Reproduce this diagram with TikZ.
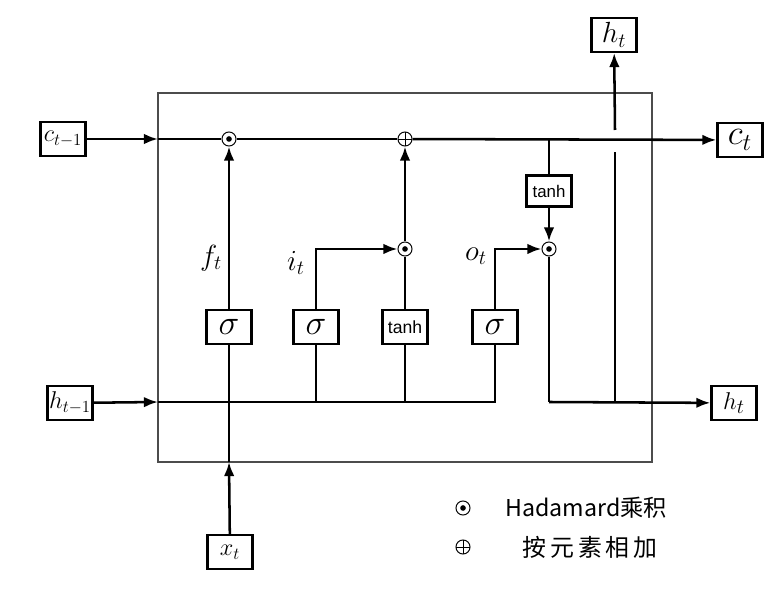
\documentclass[tikz,border=0pt]{standalone}
\usepackage{fontspec}
\newfontfamily\cjk{Noto Sans CJK SC}
\newfontfamily\tanhfont{Liberation Sans}
\usetikzlibrary{arrows.meta,positioning}

\begin{document}
\begin{tikzpicture}[
		x=0.025cm, y=-0.025cm,
		>={Latex[length=10pt,width=7.5pt]},
		every node/.style={inner sep=0pt},
		gate/.style={draw=black, line width=1.6pt, fill=white, minimum width=32pt, minimum height=24pt},
		mul/.style={circle, draw=black, fill=white, line width=0.7pt, minimum size=10pt,
			path picture={\fill[black] (path picture bounding box.center) circle (2pt);}},
		add/.style={circle, draw=black, fill=white, line width=0.7pt, minimum size=10pt,
			path picture={\draw[black, line width=0.7pt] (path picture bounding box.north) -- (path picture bounding box.south)
				(path picture bounding box.west) -- (path picture bounding box.east);}},
		wire/.style={line width=1.8pt}
	]
		\useasboundingbox (0,0) rectangle (784,589);

		% cell frame
		\draw[black!70, line width=0.9pt] (158,93) rectangle (652,462);

		% inputs and outputs
		\node[gate] (cprev) at (63,139) {\fontsize{18}{18}\selectfont $c_{t-1}$};
		\node[gate] (hprev) at (70,403) {\fontsize{18}{18}\selectfont $h_{t-1}$};
		\node[gate] (xt) at (230,552) {\fontsize{18}{18}\selectfont $x_t$};
		\node[gate] (ct) at (740,140) {\fontsize{23}{23}\selectfont $c_t$};
		\node[gate] (htop) at (614,35) {\fontsize{22}{22}\selectfont $h_t$};
		\node[gate] (hout) at (734,403) {\fontsize{19}{19}\selectfont $h_t$};

		% gates
		\node[gate] (sigf) at (229,327) {\fontsize{24}{24}\selectfont $\sigma$};
		\node[gate] (sigi) at (316,327) {\fontsize{24}{24}\selectfont $\sigma$};
		\node[gate] (tanhi) at (405,327) {\tanhfont\fontsize{12.5}{12.5}\selectfont tanh};
		\node[gate] (sigo) at (495,327) {\fontsize{24}{24}\selectfont $\sigma$};
		\node[gate, minimum height=22pt] (tanhc) at (549,191) {\tanhfont\fontsize{12}{12}\selectfont tanh};

		% pointwise operations
		\node[mul] (mulf) at (229,139) {};
		\node[add] (addi) at (405,139) {};
		\node[mul] (muli) at (405,249) {};
		\node[mul] (mulo) at (549,249) {};

		\coordinate (cin) at (158,139);
		\coordinate (hin) at (158,402);
		\coordinate (xin) at (229,462);
		\coordinate (ctap) at (549,139);
		\coordinate (hcorner) at (549,402);
		\coordinate (hsplit) at (615,402);
		\coordinate (jumplow) at (615,152);
		\coordinate (jumphigh) at (615,130);

		% cell state
		\draw[wire,->] (cprev) -- (cin);
		\draw[wire] (cin) -- (mulf);
		\draw[wire] (mulf) -- (addi);
		\draw[wire,->] (addi) -- (ct);
		\draw[wire] (ctap) -- (tanhc);
		\draw[wire,->] (tanhc) -- (mulo);

		% hidden state and input
		\draw[wire,->] (hprev) -- (hin);
		\draw[wire] (hin) -| (sigo);
		\draw[wire] (sigi |- hin) -- (sigi);
		\draw[wire] (tanhi |- hin) -- (tanhi);
		\draw[wire,->] (xt) -- (xin);
		\draw[wire] (xin) -- (sigf);

		% gate outputs
		\draw[wire,->] (sigf) -- (mulf);
		\draw[wire,->] (sigi) |- (muli);
		\draw[wire] (tanhi) -- (muli);
		\draw[wire,->] (muli) -- (addi);
		\draw[wire,->] (sigo) |- (mulo);
		\draw[wire] (mulo) -- (hcorner);
		\draw[wire,->] (hcorner) -- (hout);
		\draw[wire] (hsplit) -- (jumplow);
		\draw[wire,->] (jumphigh) -- (htop);

		\node (ft) at (211,258) {\fontsize{21}{21}\selectfont $f_t$};
		\node (it) at (296,263) {\fontsize{21}{21}\selectfont $i_t$};
		\node (ot) at (476,256) {\fontsize{21}{21}\selectfont $o_t$};

		% legend
		\node[mul] (legmul) at (463,508) {};
		\node[add] (legadd) at (463,547) {};
		\node[anchor=west] (legmultext) at (505,508) {\cjk\fontsize{16.5}{16.5}\selectfont Hadamard乘积};
		\node[anchor=west] (legaddtext) at (522,547) {\cjk\fontsize{17}{17}\selectfont 按\,元\,素\,相\,加};
	\end{tikzpicture}
\end{document}
